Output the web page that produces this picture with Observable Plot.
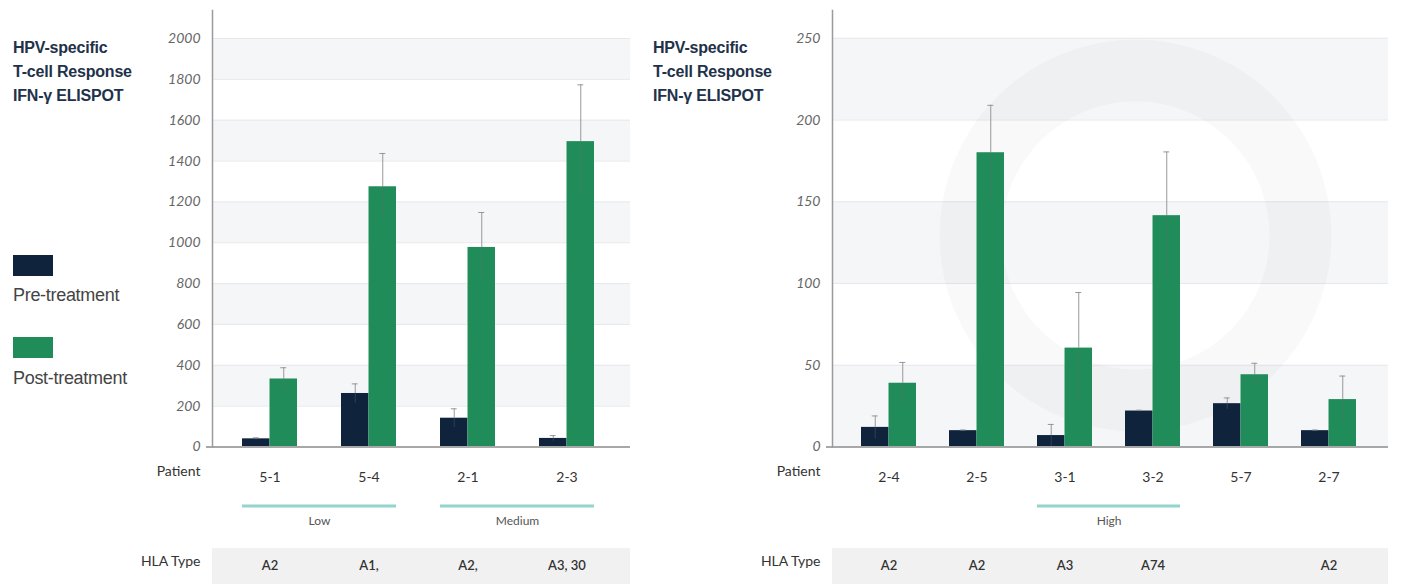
<!DOCTYPE html>
<html>
<head>
<meta charset="utf-8">
<script src="https://cdn.jsdelivr.net/npm/d3@7"></script>
<script src="https://cdn.jsdelivr.net/npm/@observablehq/plot@0.6"></script>
<style>
  html, body { margin: 0; padding: 0; background: #fff; }
  body { width: 1426px; height: 584px; overflow: hidden; font-family: "Liberation Sans", Arial, sans-serif; }
  #wrap { position: relative; width: 1426px; height: 584px; }
  .title { position: absolute; font-weight: bold; font-size: 16px; line-height: 24px; color: #22314a; letter-spacing: -0.2px; }
  .chart { position: absolute; top: 0; }
  .swatch { position: absolute; left: 13px; width: 40px; height: 21px; }
  .leg { position: absolute; left: 13px; font-size: 18px; line-height: 20px; color: #444; letter-spacing: -0.3px; }
</style>
</head>
<body>
<div id="wrap">
  <div id="chart-left" class="chart" style="left:0px"></div>
  <div id="chart-right" class="chart" style="left:640px"></div>
  <div class="title" style="left:13px;top:36px">HPV-specific<br>T-cell Response<br>IFN-γ ELISPOT</div>
  <div class="title" style="left:653px;top:36px">HPV-specific<br>T-cell Response<br>IFN-γ ELISPOT</div>
  <div class="swatch" style="top:255px;background:#10233d"></div>
  <div class="leg" style="top:285px">Pre-treatment</div>
  <div class="swatch" style="top:337px;background:#1f8c59"></div>
  <div class="leg" style="top:368px">Post-treatment</div>
</div>
<script>
// Series colours
const NAVY = "#10233d";
const GREEN = "#1f8c59";

// ---- Left panel: low / medium responders ----
const leftPatients = ["5-1", "5-4", "2-1", "2-3"];
const leftPre      = [40, 262, 141, 42];
const leftPreErr   = [5, 47, 46, 14];
const leftPost     = [333, 1274, 977, 1495];
const leftPostErr  = [55, 163, 171, 278];
const leftHLA      = ["A2", "A1,", "A2,", "A3, 30"];
const leftTicks    = [0, 200, 400, 600, 800, 1000, 1200, 1400, 1600, 1800, 2000];
const leftGroups   = [
  {label: "Low", from: "5-1", to: "5-4"},
  {label: "Medium", from: "2-1", to: "2-3"}
];

// ---- Right panel: high responders ----
const rightPatients = ["2-4", "2-5", "3-1", "3-2", "5-7", "2-7"];
const rightPre      = [12, 10, 7, 22, 26.5, 10];
const rightPreErr   = [7, 0.4, 6.8, 0.5, 3.5, 0.4];
const rightPost     = [39, 180, 60.5, 141.5, 44.2, 29];
const rightPostErr  = [12.7, 29, 34, 39, 7, 14.4];
const rightHLA      = ["A2", "A2", "A3", "A74", "", "A2"];
const rightTicks    = [0, 50, 100, 150, 200, 250];
const rightGroups   = [
  {label: "High", from: "3-1", to: "3-2"}
];

function responseChart({patients, pre, preErr, post, postErr, hla, ticks, groups, yMax,
                        width, marginLeft, marginRight, paddingInner, paddingOuter, align, watermark}) {
  const height = 584, marginTop = 10, marginBottom = 137.5;
  const rows = patients.map((p, i) => ({
    patient: p, pre: pre[i], preErr: preErr[i], post: post[i], postErr: postErr[i], hla: hla[i]
  }));

  // Mirror of the x band scale, used only to size the paired-bar insets
  const band = d3.scaleBand(patients, [marginLeft, width - marginRight])
    .paddingInner(paddingInner).paddingOuter(paddingOuter).align(align);
  const bw = band.bandwidth(), step = band.step();
  const half = bw / 2, quarter = bw / 4, cap = 3;

  // Alternate shading between gridlines, starting with the topmost interval
  const intervals = d3.pairs(ticks);
  const shaded = intervals.filter((_, i) => (intervals.length - 1 - i) % 2 === 0);

  const errOuter = {stroke: "#8e8e8e", strokeOpacity: 0.9, strokeWidth: 1};
  const errInner = {stroke: "#6f6f6f", strokeOpacity: 0.35, strokeWidth: 1};

  return Plot.plot({
    width, height, marginLeft, marginRight, marginTop, marginBottom,
    style: {fontFamily: "Lato, 'Open Sans', sans-serif", background: "transparent", overflow: "visible"},
    x: {type: "band", domain: patients, paddingInner, paddingOuter, align, label: null},
    y: {domain: [0, yMax], label: null},
    marks: [
      Plot.rectY(shaded, {y1: d => d[0], y2: d => d[1], fill: "#f5f6f8"}),
      Plot.ruleY(ticks.slice(1), {stroke: "#e7e8eb", strokeWidth: 1}),

      // faint logo ring in the background
      watermark ? Plot.dot([0], {frameAnchor: "top-left", dx: watermark.dx, dy: watermark.dy, r: watermark.r,
        fill: "none", stroke: "#000", strokeOpacity: 0.024, strokeWidth: watermark.width}) : null,

      // HLA strip below the patient labels
      Plot.ruleY([0], {stroke: "#f1f1f1", strokeWidth: 38, dy: 120}),

      Plot.barY(rows, {x: "patient", y: "pre", fill: NAVY, insetRight: half}),
      Plot.barY(rows, {x: "patient", y: "post", fill: GREEN, insetLeft: half}),

      // error bars: faint lower half inside the bar, upper half and cap above it
      Plot.ruleX(rows, {x: "patient", y1: d => d.pre - d.preErr, y2: "pre", dx: -quarter, ...errInner}),
      Plot.ruleX(rows, {x: "patient", y1: d => d.post - d.postErr, y2: "post", dx: quarter, ...errInner}),
      Plot.ruleX(rows, {x: "patient", y1: "pre", y2: d => d.pre + d.preErr, dx: -quarter, ...errOuter}),
      Plot.ruleX(rows, {x: "patient", y1: "post", y2: d => d.post + d.postErr, dx: quarter, ...errOuter}),
      Plot.tickY(rows, {x: "patient", y: d => d.pre + d.preErr, insetLeft: quarter - cap, insetRight: bw - quarter - cap, ...errOuter}),
      Plot.tickY(rows, {x: "patient", y: d => d.post + d.postErr, insetLeft: bw - quarter - cap, insetRight: quarter - cap, ...errOuter}),

      // baseline and value axis
      Plot.ruleY([0], {stroke: "#a8a8a8", strokeWidth: 2, insetLeft: -6}),
      Plot.frame({anchor: "left", stroke: "#9a9a9a", strokeWidth: 1.5}),
      Plot.axisY(ticks, {tickSize: 0, tickPadding: 12, tickFormat: d3.format("d"), fontStyle: "italic", fill: "#666", fontSize: 14, label: null}),

      // patient row
      Plot.axisX({tickSize: 0, tickPadding: 25, fontSize: 14, fill: "#333", label: null}),
      Plot.text(["Patient"], {frameAnchor: "bottom-left", textAnchor: "end", dx: -12, dy: 29, fontSize: 14, fill: "#333"}),

      // response-level groups
      Plot.ruleY(groups, {x1: "from", x2: "to", y: 0, dy: 59, stroke: "#93d4cc", strokeWidth: 3}),
      Plot.text(groups, {x: "from", y: 0, text: "label", dx: step / 2, dy: 74, fontSize: 12, fill: "#555"}),

      // HLA row
      Plot.text(["HLA Type"], {frameAnchor: "bottom-left", textAnchor: "end", dx: -12, dy: 119, fontSize: 14, fill: "#333"}),
      Plot.text(rows, {x: "patient", y: 0, text: "hla", dy: 119, fontSize: 13, fontWeight: 600, fill: "#333"})
    ]
  });
}

document.getElementById("chart-left").append(responseChart({
  patients: leftPatients, pre: leftPre, preErr: leftPreErr, post: leftPost, postErr: leftPostErr,
  hla: leftHLA, ticks: leftTicks, groups: leftGroups, yMax: 2137,
  width: 640, marginLeft: 212, marginRight: 10, paddingInner: 0.444, paddingOuter: 0.333, align: 0.45
}));

document.getElementById("chart-right").append(responseChart({
  patients: rightPatients, pre: rightPre, preErr: rightPreErr, post: rightPost, postErr: rightPostErr,
  hla: rightHLA, ticks: rightTicks, groups: rightGroups, yMax: 267,
  width: 786, marginLeft: 192, marginRight: 38, paddingInner: 0.376, paddingOuter: 0.34, align: 0.475,
  watermark: {dx: 303, dy: 225, r: 165, width: 62}
}));
</script>
</body>
</html>
